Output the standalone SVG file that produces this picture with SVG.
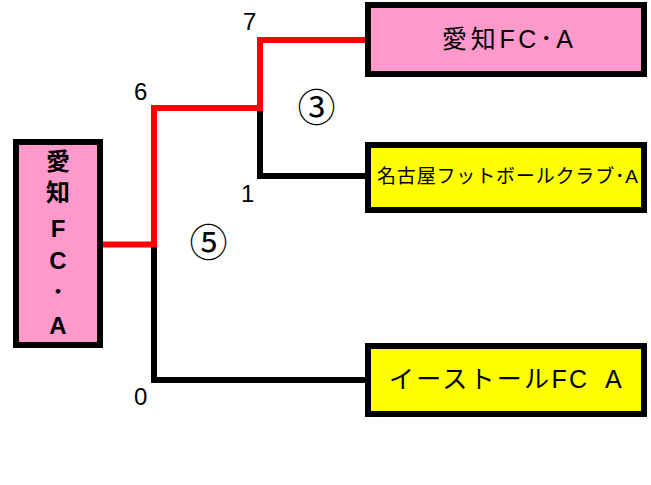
<svg xmlns="http://www.w3.org/2000/svg" width="651" height="485" viewBox="0 0 651 485">
<style>
.box{stroke:#000;stroke-width:6}
.pink{fill:#ff99cc}
.yellow{fill:#ffff00}
.t{font-family:"Liberation Sans","Noto Sans CJK JP",sans-serif;fill:#000}
.j{font-family:"Noto Sans CJK JP","Liberation Sans",sans-serif;fill:#000}
.red{fill:none;stroke:#ff0000;stroke-width:6}
.blk{fill:none;stroke:#000;stroke-width:6}
</style>
<rect width="651" height="485" fill="#fff"/>
<g id="connectors">
<path class="blk" d="M260,108 V176 H365"/>
<path class="blk" d="M154,244.5 V380 H365"/>
<path class="red" d="M103,244.5 H154 V108 H260 V40 H365"/>
</g>
<g id="winner">
<rect class="box pink" x="16" y="142" width="84" height="203"/>
<g class="t" font-size="24" font-weight="bold" text-anchor="middle">
<text x="58" y="170">愛</text>
<text x="58" y="201">知</text>
<text x="58" y="237">F</text>
<text x="58" y="269">C</text>
<text x="58" y="300" class="j">･</text>
<text x="58" y="334">A</text>
</g>
</g>
<g id="team1">
<rect class="box pink" x="368" y="5" width="276" height="69"/>
<text class="t" x="442" y="48" font-size="25" textLength="131" lengthAdjust="spacing">愛知FC･A</text>
</g>
<g id="team2">
<rect class="box yellow" x="368" y="145" width="276" height="65"/>
<text class="t" x="377" y="183" font-size="19" textLength="261" lengthAdjust="spacing">名古屋フットボールクラブ･A</text>
</g>
<g id="team3">
<rect class="box yellow" x="368" y="346" width="276" height="68"/>
<text class="t" x="389" y="388" font-size="25" textLength="198" lengthAdjust="spacing">イーストールFC</text>
<text class="t" x="605" y="388" font-size="25">A</text>
</g>
<g id="scores" class="t" font-size="24">
<text x="243" y="30">7</text>
<text x="134" y="100">6</text>
<text x="241" y="202">1</text>
<text x="134" y="405">0</text>
</g>
<g id="matches" class="j" font-size="38" text-anchor="middle">
<text x="316.5" y="121">③</text>
<text x="208.5" y="256">⑤</text>
</g>
</svg>
